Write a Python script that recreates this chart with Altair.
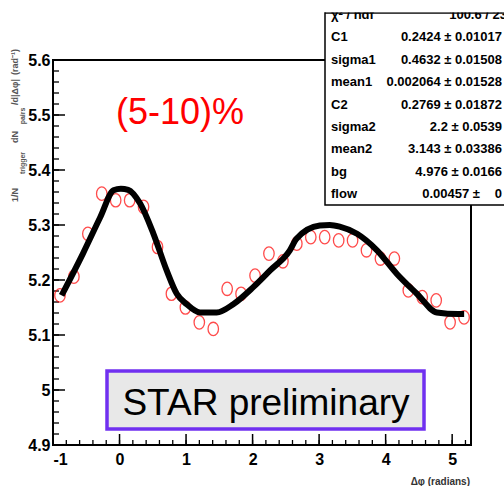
import altair as alt
import numpy as np
import pandas as pd

# Δφ bin centres (30 bins over one period, starting at -1 rad)
dphi = [-0.895, -0.686, -0.476, -0.267, -0.058, 0.152, 0.361, 0.571, 0.780, 0.990,
        1.199, 1.409, 1.618, 1.827, 2.037, 2.246, 2.456, 2.665, 2.875, 3.084,
        3.294, 3.503, 3.712, 3.922, 4.131, 4.341, 4.550, 4.760, 4.969, 5.179]
# per-trigger pair yield in each bin
yield_ = [5.172, 5.206, 5.284, 5.357, 5.345, 5.345, 5.333, 5.260, 5.175, 5.150,
          5.123, 5.111, 5.184, 5.175, 5.208, 5.248, 5.234, 5.266, 5.278, 5.278,
          5.272, 5.272, 5.254, 5.239, 5.239, 5.181, 5.169, 5.163, 5.123, 5.132]

# fitted function sampled along Δφ
fit_x = [-0.87, -0.55, -0.29, -0.09, 0.02, 0.13, 0.31, 0.51, 0.71, 0.86, 1.01, 1.21,
         1.46, 1.71, 2.01, 2.26, 2.56, 2.66, 3.01, 3.16, 3.31, 3.57, 3.87, 4.17,
         4.47, 4.77, 5.09, 5.18]
fit_y = [5.172, 5.248, 5.314, 5.363, 5.366, 5.364, 5.339, 5.284, 5.217, 5.175, 5.156, 5.141,
         5.141, 5.156, 5.187, 5.217, 5.254, 5.275, 5.299, 5.300, 5.297, 5.284, 5.254, 5.211,
         5.175, 5.141, 5.138, 5.138]

# fit statistics box
stat_names = ["χ² / ndf", "C1", "sigma1", "mean1", "C2", "sigma2", "mean2", "bg", "flow"]
stat_values = ["100.6 / 23", "0.2424 ± 0.01017", "0.4632 ± 0.01508", "0.002064 ± 0.01528",
               "0.2769 ± 0.01872", "2.2 ± 0.0539", "3.143 ± 0.03386", "4.976 ± 0.0166",
               "0.00457 ±"]

x_ticks = [-1, 0, 1, 2, 3, 4, 5]
y_ticks = [4.9, 5.0, 5.1, 5.2, 5.3, 5.4, 5.5, 5.6]
x_minor = [round(v, 2) for v in np.arange(-1, 5.21, 0.2)]
y_minor = [round(v, 2) for v in np.arange(4.9, 5.601, 0.02)]

X_DOMAIN = [-1, 2 * np.pi - 1]
Y_DOMAIN = [4.9, 5.6]
W, H = 418, 385
LEFT, TOP = 53, 60

SANS = "'Liberation Sans', Arial, sans-serif"

xs = alt.Scale(domain=X_DOMAIN, nice=False, zero=False)
ys = alt.Scale(domain=Y_DOMAIN, nice=False, zero=False)

pts_df = pd.DataFrame({"dphi": dphi, "y": yield_})
fit_df = pd.DataFrame({"dphi": fit_x, "y": fit_y})

ellipse = "M -0.78 0 A 0.78 1 0 1 0 0.78 0 A 0.78 1 0 1 0 -0.78 0 Z"

points = alt.Chart(pts_df).mark_point(
    shape=ellipse, filled=False, color="#ff0000", strokeWidth=1.3, size=180, clip=True
).encode(
    x=alt.X("dphi:Q", scale=xs, axis=alt.Axis(
        values=x_ticks, ticks=False, domain=False, grid=False, title=None,
        labelFont=SANS, labelFontSize=16, labelFontWeight="bold", labelColor="black",
        labelPadding=6, labelExpr="datum.value < 0 ? '-' + abs(datum.value) : '' + datum.value")),
    y=alt.Y("y:Q", scale=ys, axis=alt.Axis(
        values=y_ticks, ticks=False, domain=False, grid=False, title=None,
        labelFont=SANS, labelFontSize=16, labelFontWeight="bold", labelColor="black",
        labelPadding=3, labelExpr="'' + datum.value")),
)

curve = alt.Chart(fit_df).mark_line(
    color="black", strokeWidth=6, interpolate="monotone", clip=True
).encode(x=alt.X("dphi:Q", scale=xs), y=alt.Y("y:Q", scale=ys))

# inward tick marks on the left and bottom axes
ymaj = alt.Chart(pd.DataFrame({"v": y_ticks})).mark_rule(color="black", strokeWidth=1.5).encode(
    y=alt.Y("v:Q", scale=ys), x=alt.value(0), x2=alt.value(12))
ymin = alt.Chart(pd.DataFrame({"v": y_minor})).mark_rule(color="black", strokeWidth=1.3).encode(
    y=alt.Y("v:Q", scale=ys), x=alt.value(0), x2=alt.value(6))
xmaj = alt.Chart(pd.DataFrame({"v": x_ticks})).mark_rule(color="black", strokeWidth=1.5).encode(
    x=alt.X("v:Q", scale=xs), y=alt.value(H), y2=alt.value(H - 11))
xmin = alt.Chart(pd.DataFrame({"v": x_minor})).mark_rule(color="black", strokeWidth=1.3).encode(
    x=alt.X("v:Q", scale=xs), y=alt.value(H), y2=alt.value(H - 5))


def one():
    return pd.DataFrame({"k": [0]})


def text(s, x, y, size, color="black", align="left", baseline="middle",
         angle=0, font=SANS, weight="normal"):
    # x, y are page pixel positions
    kw = dict(align=align, baseline=baseline, fontSize=size, font=font,
              fontWeight=weight, color=color, text=s)
    if angle:
        kw["angle"] = angle
    return alt.Chart(one()).mark_text(**kw).encode(
        x=alt.value(x - LEFT), y=alt.value(y - TOP))


def box(x0, y0, x1, y1, fill, stroke=None, sw=0):
    kw = dict(fill=fill)
    if stroke:
        kw.update(stroke=stroke, strokeWidth=sw)
    return alt.Chart(one()).mark_rect(**kw).encode(
        x=alt.value(x0 - LEFT), x2=alt.value(x1 - LEFT),
        y=alt.value(y0 - TOP), y2=alt.value(y1 - TOP))


layers = [ymin, ymaj, xmin, xmaj, points, curve]

# centre label
layers.append(text("(5-10)%", 180, 124, 36, color="#ff0000", align="center",
                   baseline="alphabetic"))

# STAR preliminary tag
layers.append(box(107, 371, 424, 429, "#e8e8e8", "#7030f0", 3.5))
layers.append(text("STAR preliminary", 266, 415, 37, align="center", baseline="alphabetic"))

# axis titles
layers.append(text("Δφ (radians)", 470, 482, 10, color="#333333", align="right",
                   weight="bold"))
for s, yy, xx, sz in [("1/N", 195, 15, 9), ("trigger", 163, 23, 7), ("dN", 137, 15, 9),
                      ("pairs", 116, 23, 7), ("/d|Δφ|", 92, 15, 9), ("(rad⁻¹)", 62, 15, 9)]:
    layers.append(text(s, xx, yy, sz, color="#555555", align="center", angle=270,
                       weight="bold"))

# fit statistics panel
layers.append(box(325, 13, 515, 205, "white", "black", 1.5))
row_y = [15, 37, 60, 82, 105, 127, 149, 172, 194]
for name, val, yy in zip(stat_names, stat_values, row_y):
    layers.append(text(name, 331, yy, 13, weight="bold"))
    vx = 507 if name.startswith("χ") else (480 if name == "flow" else 502)
    layers.append(text(val, vx, yy, 13, align="right", weight="bold"))
layers.append(text("0", 502, 194, 13, align="right", weight="bold"))
layers.append(box(326, 0, 510, 12.2, "white"))

chart = alt.layer(*layers).properties(
    width=W, height=H,
    autosize=alt.AutoSizeParams(type="none"),
    padding={"left": LEFT, "top": TOP, "right": 504 - LEFT - W, "bottom": 486 - TOP - H},
    background="white",
).configure_view(stroke="black", strokeWidth=2)

chart.save("out.html", embed_options={"renderer": "svg", "actions": False})
